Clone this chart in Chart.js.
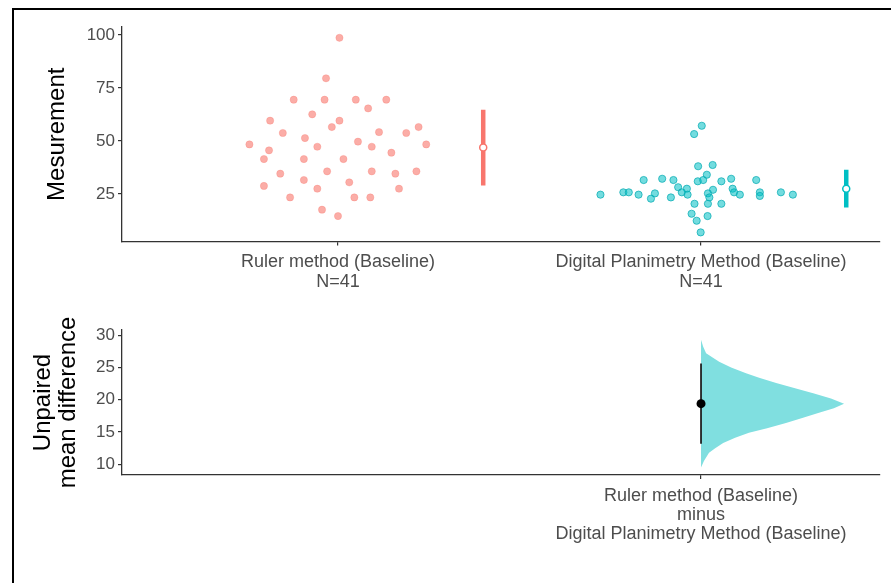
<!DOCTYPE html>
<html><head><meta charset="utf-8">
<script src="https://cdn.jsdelivr.net/npm/chart.js@4.4.0/dist/chart.umd.min.js"></script>
<style>
html,body{margin:0;padding:0;background:#fff;}
#wrap{position:relative;width:891px;height:583px;overflow:hidden;background:#fff;}
canvas{position:absolute;left:0;}
#frame{position:absolute;left:12px;top:8px;width:900px;height:600px;border-left:2px solid #000;border-top:2px solid #000;pointer-events:none;}
</style></head><body>
<div id="wrap">
<canvas id="topChart" width="891" height="300" style="top:0"></canvas>
<canvas id="botChart" width="891" height="283" style="top:300px"></canvas>
<div id="frame"></div>
</div>
<script>
// ---------- data ----------
const categories = ['Ruler method (Baseline)', 'Digital Planimetry Method (Baseline)'];
const groupN = [41, 41];
const rulerValues = [98.7, 79.6, 69.5, 69.5, 69.5, 69.5, 65.4, 62.6, 59.6, 59.6, 56.6, 56.6, 53.8, 54.2, 53.8, 51.4, 48.4, 48.4, 49.7, 47.3, 47.3, 45.6, 44.5, 41.5, 41.5, 41.5, 34.6, 35.7, 35.7, 34.6, 35.7, 31.6, 30.5, 28.8, 27.5, 27.5, 23.4, 23.4, 23.4, 17.6, 14.6];
const rulerSwarmX = [1.004, 0.967, 0.878, 0.963, 1.049, 1.133, 1.083, 0.929, 0.813, 1.004, 0.983, 1.222, 0.848, 1.113, 1.188, 0.909, 0.756, 1.243, 1.055, 0.943, 1.093, 0.810, 1.147, 0.796, 0.906, 1.015, 0.841, 0.970, 1.093, 1.158, 1.216, 0.906, 1.031, 0.796, 0.943, 1.168, 0.868, 1.045, 1.089, 0.956, 1.000];
const digitalValues = [57.2, 53.3, 38.1, 38.7, 34.1, 31.6, 32.2, 31.6, 31.0, 31.6, 31.0, 32.2, 31.6, 28.2, 27.5, 25.8, 24.7, 27.0, 27.5, 25.8, 24.7, 25.3, 23.4, 25.8, 24.1, 25.8, 24.7, 24.7, 25.8, 25.8, 24.7, 25.3, 22.8, 23.4, 20.4, 20.4, 20.4, 15.7, 14.6, 12.4, 6.9];
const digitalSwarmX = [2.002, 1.981, 1.992, 2.032, 2.016, 1.842, 1.893, 1.924, 1.991, 2.006, 2.056, 2.083, 2.152, 1.937, 1.961, 1.947, 1.963, 2.033, 2.087, 2.091, 2.107, 2.019, 2.023, 2.162, 2.162, 2.220, 2.253, 1.723, 1.786, 1.801, 1.828, 1.873, 1.862, 1.917, 1.982, 2.019, 2.056, 1.974, 2.018, 1.988, 1.999];
const groupMeans = [46.9, 27.5];
const groupSD = [17.9, 8.9];
const yTicksTop = [25, 50, 75, 100];
const yTicksBottom = [10, 15, 20, 25, 30];
const diffMean = 19.4;
const diffCI = [13.2, 25.6];
const bootY = [9.5, 10.5, 11.8, 12.5, 13.3, 14.1, 14.9, 15.6, 16.4, 17.2, 18.0, 18.7, 19.4, 20.2, 21.0, 21.8, 22.6, 23.4, 24.1, 25.0, 25.9, 26.5, 27.2, 28.2, 29.3];
const bootDensity = [0, 0.008, 0.022, 0.039, 0.061, 0.094, 0.132, 0.182, 0.234, 0.281, 0.325, 0.366, 0.394, 0.358, 0.309, 0.259, 0.207, 0.160, 0.124, 0.083, 0.050, 0.033, 0.014, 0.006, 0];

// ---------- styles ----------
const FONT = "'Liberation Sans', Arial, sans-serif";
Chart.defaults.font.family = FONT;
Chart.defaults.color = '#4d4d4d';
const COLORS = ['#F8766D', '#00BFC4'];
const barOffset = 0.4;
const axisColor = '#333333';

function gridOpts() {
  return { drawOnChartArea: false, drawTicks: true, tickLength: 4, color: axisColor, lineWidth: 1.2 };
}
function borderOpts() {
  return { display: true, color: axisColor, width: 1.3 };
}
const commonPlugins = { legend: { display: false }, tooltip: { enabled: false }, title: { display: false } };

// ---------- top chart ----------
const topDatasets = [
  {
    data: rulerValues.map((v, i) => ({ x: rulerSwarmX[i], y: v })), order: 3,
    pointRadius: 3.6, backgroundColor: 'rgba(248,118,109,0.6)', borderColor: 'rgba(248,118,109,0.3)', borderWidth: 1
  },
  {
    data: digitalValues.map((v, i) => ({ x: digitalSwarmX[i], y: v })), order: 3,
    pointRadius: 3.6, backgroundColor: 'rgba(0,191,196,0.55)', borderColor: 'rgba(0,170,176,0.7)', borderWidth: 1
  }
];
groupMeans.forEach((m, i) => {
  topDatasets.push({
    data: [{ x: i + 1 + barOffset, y: m - groupSD[i] }, { x: i + 1 + barOffset, y: m + groupSD[i] }], order: 2,
    showLine: true, borderColor: COLORS[i], borderWidth: 4.5, pointRadius: 0, borderCapStyle: 'butt'
  });
});
groupMeans.forEach((m, i) => {
  topDatasets.push({
    data: [{ x: i + 1 + barOffset, y: m }], order: 1,
    pointRadius: 3.5, backgroundColor: '#ffffff', borderColor: COLORS[i], borderWidth: 1.5
  });
});

new Chart(document.getElementById('topChart'), {
  type: 'scatter',
  data: { datasets: topDatasets },
  options: {
    responsive: false, animation: false, events: [],
    layout: { padding: { left: 0, right: 11, top: 27, bottom: 0 } },
    plugins: commonPlugins,
    scales: {
      x: {
        type: 'linear', min: 0.405, max: 2.493,
        afterBuildTicks: s => { s.ticks = [1, 2].map(v => ({ value: v })); },
        afterFit: s => { s.height = 58.5; },
        ticks: {
          callback: v => { const k = Math.round(v) - 1; return [categories[k], 'N=' + groupN[k]]; },
          font: { size: 18, lineHeight: 1.1 }, color: '#4d4d4d', padding: 7, maxRotation: 0, autoSkip: false
        },
        grid: gridOpts(), border: borderOpts()
      },
      y: {
        min: 2.6, max: 103.8,
        afterBuildTicks: s => { s.ticks = yTicksTop.map(v => ({ value: v })); },
        afterFit: s => { s.width = 122; },
        ticks: { font: { size: 17 }, color: '#4d4d4d', padding: 3 },
        grid: gridOpts(), border: borderOpts(),
        title: { display: true, text: 'Mesurement', color: '#000', font: { size: 24 }, padding: { top: 42.6, bottom: 0 } }
      }
    }
  }
});

// ---------- bottom chart ----------
const violin = bootY.map((y, i) => ({ x: 2 + bootDensity[i], y: y }));
new Chart(document.getElementById('botChart'), {
  type: 'scatter',
  data: {
    datasets: [
      { data: violin, order: 3, showLine: true, fill: 'shape', backgroundColor: '#80dfe0', borderColor: '#80dfe0', borderWidth: 0, pointRadius: 0, tension: 0 },
      { data: [{ x: 2, y: diffCI[0] }, { x: 2, y: diffCI[1] }], order: 2, showLine: true, borderColor: '#222', borderWidth: 1.8, pointRadius: 0 },
      { data: [{ x: 2, y: diffMean }], order: 1, pointRadius: 4.5, backgroundColor: '#000', borderColor: '#000', borderWidth: 0 }
    ]
  },
  options: {
    responsive: false, animation: false, events: [],
    layout: { padding: { left: 0, right: 11, top: 30, bottom: 0 } },
    plugins: commonPlugins,
    scales: {
      x: {
        type: 'linear', min: 0.405, max: 2.493,
        afterBuildTicks: s => { s.ticks = [{ value: 2 }]; },
        afterFit: s => { s.height = 108; },
        ticks: {
          callback: () => [categories[0], 'minus', categories[1]],
          font: { size: 18, lineHeight: 1.06 }, color: '#4d4d4d', padding: 7, maxRotation: 0, autoSkip: false
        },
        grid: gridOpts(), border: borderOpts()
      },
      y: {
        min: 8.35, max: 30.8,
        afterBuildTicks: s => { s.ticks = yTicksBottom.map(v => ({ value: v })); },
        afterFit: s => { s.width = 122; },
        ticks: { font: { size: 17 }, color: '#4d4d4d', padding: 3 },
        grid: gridOpts(), border: borderOpts(),
        title: { display: true, text: ['Unpaired', 'mean difference'], color: '#000', font: { size: 24, lineHeight: 1.05 }, padding: { top: 30.4, bottom: 0 } }
      }
    }
  }
});
</script>
</body></html>
